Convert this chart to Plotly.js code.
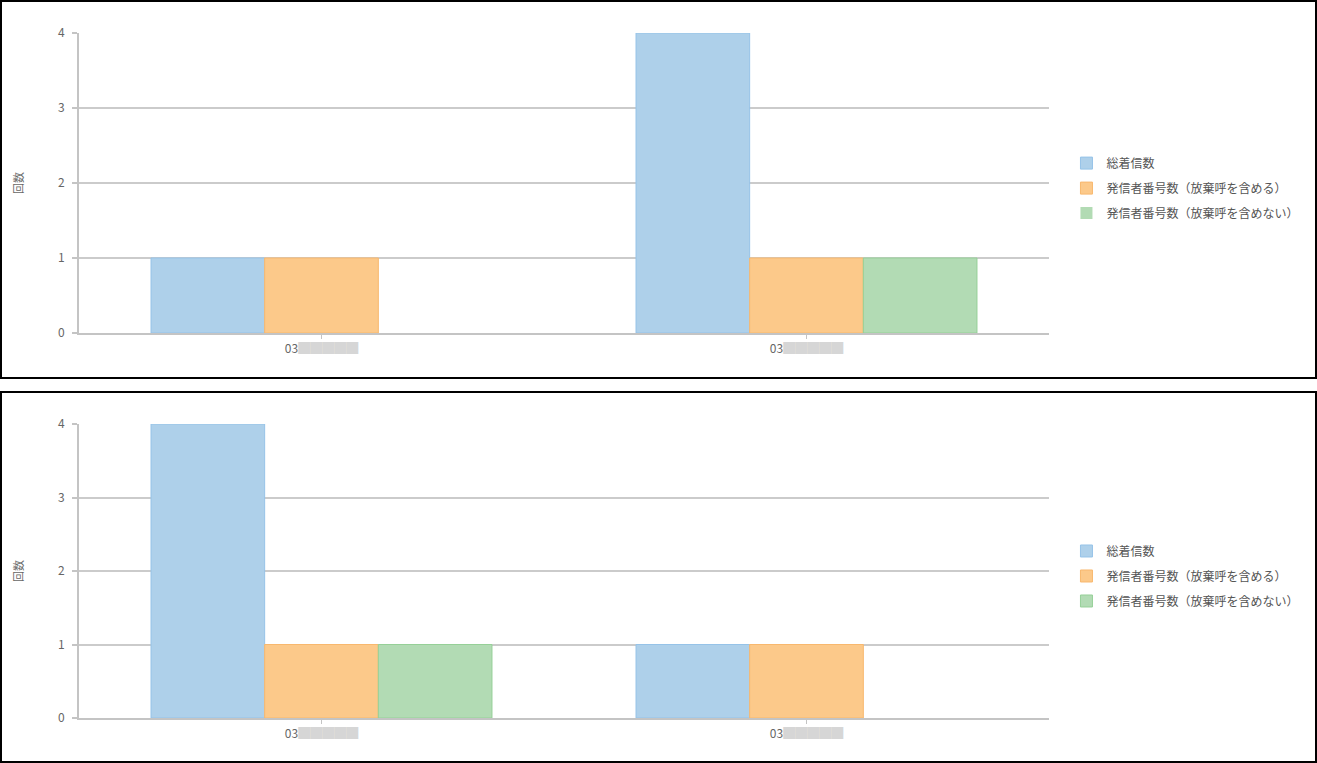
<!DOCTYPE html>
<html>
<head>
<meta charset="utf-8">
<script src="https://cdn.plot.ly/plotly-3.0.1.min.js"></script>
<style>
  html, body { margin: 0; padding: 0; background: #fff; }
  .box { position: absolute; left: 0; width: 1313px; border: 2px solid #000; background: #fff; }
  #c1 { top: 0; height: 375px; }
  #c2 { top: 391px; height: 368px; }
</style>
</head>
<body>
<div id="c1" class="box"></div>
<div id="c2" class="box"></div>
<script>
// Series names
const seriesNames = ['総着信数', '発信者番号数（放棄呼を含める）', '発信者番号数（放棄呼を含めない）'];
const seriesColors = ['rgba(174,208,234,1)', 'rgba(252,201,138,1)', 'rgba(178,219,180,1)'];
const seriesLines = ['rgb(150,195,232)', 'rgb(248,184,110)', 'rgb(150,208,152)'];

// Categories (phone numbers, redacted in the reference)
const categories = ['03-A', '03-B'];
const redact = '<span style="color:#d6d6d6">█████</span>';
const tickLabels = ['03' + redact, '03' + redact];

// Chart 1 values
const chart1Total = [1, 4];
const chart1WithAbandon = [1, 1];
const chart1WithoutAbandon = [0, 1];

// Chart 2 values
const chart2Total = [4, 1];
const chart2WithAbandon = [1, 1];
const chart2WithoutAbandon = [1, 0];

const yTicks = [0, 1, 2, 3, 4];
const yTitle = '回数';

const FONT = '"Noto Sans CJK JP", "Noto Sans", sans-serif';

function makeTraces(vals) {
  return vals.map((v, i) => ({
    type: 'bar',
    name: seriesNames[i],
    x: categories,
    y: v,
    legendgroup: 'g' + i,
    marker: {
      color: seriesColors[i],
      line: { color: seriesLines[i], width: v.map(d => (d > 0 ? 1 : 0)) }
    },
    hoverinfo: 'x+y+name'
  }));
}

function makeLayout(h, t, b) {
  return {
    width: 1313, height: h,
    margin: { l: 77, r: 266, t: t, b: b, autoexpand: false },
    paper_bgcolor: '#fff', plot_bgcolor: '#fff',
    font: { family: FONT, size: 12, color: '#666' },
    barmode: 'group', bargap: 0.297, bargroupgap: 0,
    showlegend: true,
    legend: {
      x: 1.018, xanchor: 'left', y: 0.483, yanchor: 'middle',
      font: { family: FONT, size: 12, color: '#555' },
      tracegroupgap: 6, traceorder: 'grouped', itemwidth: 30
    },
    xaxis: {
      type: 'category',
      tickmode: 'array', tickvals: categories, ticktext: tickLabels,
      showline: true, linecolor: '#c4c4c4', linewidth: 2,
      ticks: 'outside', ticklen: 4, tickcolor: '#c4c4c4', tickwidth: 1,
      showgrid: false, zeroline: false,
      tickfont: { family: FONT, size: 12, color: '#666' }
    },
    yaxis: {
      range: [0, 4], tickvals: yTicks,
      showline: true, linecolor: '#c4c4c4', linewidth: 2,
      ticks: 'outside', ticklen: 5, tickcolor: '#c4c4c4', tickwidth: 2,
      ticklabelstandoff: 5,
      showgrid: true, gridcolor: '#cbcbcb', gridwidth: 2,
      zeroline: false,
      tickfont: { family: FONT, size: 12, color: '#666' },
      title: { text: yTitle, font: { family: FONT, size: 11, color: '#666' }, standoff: 32 }
    }
  };
}

Plotly.newPlot('c1', makeTraces([chart1Total, chart1WithAbandon, chart1WithoutAbandon]),
  makeLayout(375, 31, 44), { displayModeBar: false, staticPlot: true });
Plotly.newPlot('c2', makeTraces([chart2Total, chart2WithAbandon, chart2WithoutAbandon]),
  makeLayout(368, 31, 43), { displayModeBar: false, staticPlot: true });
</script>
</body>
</html>
